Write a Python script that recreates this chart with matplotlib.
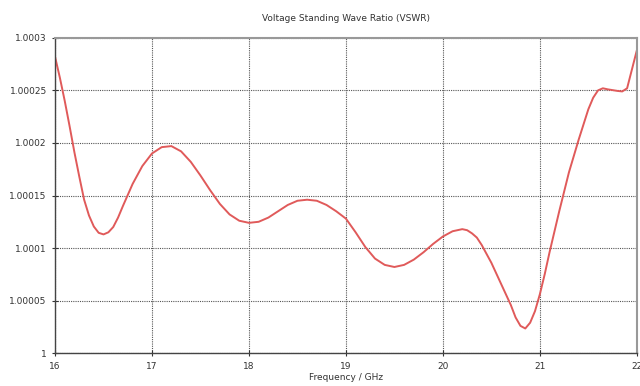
import matplotlib
matplotlib.use("Agg")
import matplotlib.pyplot as plt
from matplotlib.ticker import FixedLocator

# Frequency sweep (GHz) and VSWR deviation from 1 (units of 1e-5)
freq = [16.0, 16.05, 16.1, 16.15, 16.2, 16.25, 16.3, 16.35, 16.4, 16.45,
        16.5, 16.55, 16.6, 16.65, 16.7, 16.8, 16.9,
        17.0, 17.1, 17.2, 17.3, 17.4, 17.5, 17.6, 17.7, 17.8, 17.9,
        18.0, 18.1, 18.2, 18.3, 18.4, 18.5, 18.6, 18.7, 18.8, 18.9,
        19.0, 19.1, 19.2, 19.3, 19.4, 19.5, 19.6, 19.7, 19.8, 19.9,
        20.0, 20.1, 20.2, 20.25, 20.3, 20.35, 20.4, 20.5, 20.6, 20.7,
        20.75, 20.8, 20.85, 20.9, 20.95, 21.0, 21.05, 21.1, 21.2, 21.3,
        21.4, 21.5, 21.55, 21.6, 21.65, 21.7, 21.8, 21.85, 21.9, 21.95, 22.0]
dev = [28.2, 26.2, 24.0, 21.6, 19.1, 16.8, 14.6, 13.1, 12.05, 11.45,
       11.3, 11.5, 12.0, 12.9, 14.0, 16.1, 17.8,
       19.0, 19.6, 19.7, 19.2, 18.2, 16.9, 15.5, 14.2, 13.2, 12.6,
       12.4, 12.5, 12.9, 13.5, 14.1, 14.5, 14.6, 14.5, 14.1, 13.5,
       12.8, 11.5, 10.1, 9.0, 8.4, 8.2, 8.4, 8.9, 9.6, 10.4,
       11.1, 11.6, 11.8, 11.7, 11.4, 11.0, 10.3, 8.6, 6.6, 4.6,
       3.4, 2.6, 2.35, 2.9, 4.0, 5.6, 7.5, 9.6, 13.5, 17.2,
       20.3, 23.2, 24.3, 25.0, 25.2, 25.1, 24.95, 24.9, 25.2, 27.0, 28.8]
vswr = [1 + d * 1e-5 for d in dev]

x_ticks = [16, 17, 18, 19, 20, 21, 22]
y_ticks = [1.0, 1.00005, 1.0001, 1.00015, 1.0002, 1.00025, 1.0003]
y_labels = ["1", "1.00005", "1.0001", "1.00015", "1.0002", "1.00025", "1.0003"]

fig = plt.figure(figsize=(6.4, 3.86), dpi=100)
ax = fig.add_axes([0.086, 0.085, 0.909, 0.817])

ax.plot(freq, vswr, color="#e05a5a", linewidth=1.4,
        solid_joinstyle="round", solid_capstyle="round")

ax.set_xlim(16, 22)
ax.set_ylim(1.0, 1.0003)
ax.xaxis.set_major_locator(FixedLocator(x_ticks))
ax.set_yticks(y_ticks)
ax.set_yticklabels(y_labels)
ax.tick_params(labelsize=6.5, colors="#333333", direction="inout", length=5, width=0.8)

ax.grid(True, linestyle=(0, (1, 1)), color="#555555", linewidth=0.8)

for side in ["left", "bottom"]:
    ax.spines[side].set_color("#444444")
    ax.spines[side].set_linewidth(1.0)
for side in ["top", "right"]:
    ax.spines[side].set_color("#999999")
    ax.spines[side].set_linewidth(1.5)

ax.set_title("Voltage Standing Wave Ratio (VSWR)", fontsize=6.5, color="#333333", pad=12)
ax.set_xlabel("Frequency / GHz", fontsize=6.5, color="#333333", labelpad=2)

fig.savefig("out.png", dpi=100, facecolor="white")
